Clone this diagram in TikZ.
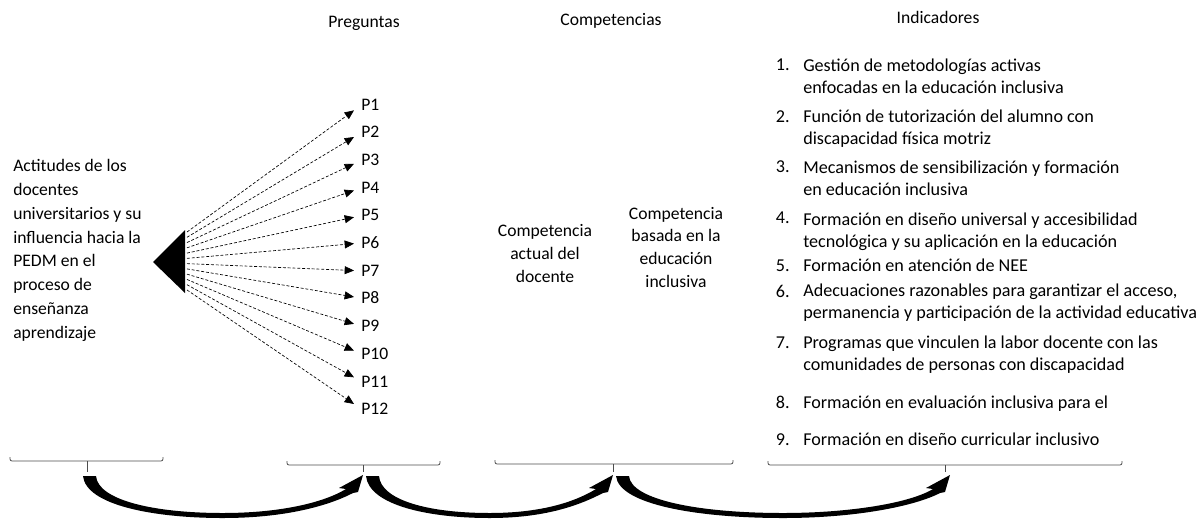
\documentclass[tikz,border=0pt]{standalone}
\usepackage{fontspec}
\setmainfont{Carlito}
\usetikzlibrary{arrows.meta,calc}

\tikzset{
  lbl/.style={inner sep=0pt, font=\fontsize{13.2}{16.5}\selectfont},
  indlbl/.style={inner sep=0pt, font=\fontsize{13.6}{16.5}\selectfont},
  qarrow/.style={line width=0.5pt, dash pattern=on 2.2pt off 1.4pt,
    -{Triangle[length=7pt,width=6pt]}},
  brack/.style={line width=0.6pt, draw=black!70, rounded corners=1.5pt},
}

% thick curved arrow under the brackets: #1 = x of start, #2 = x of tip
\newcommand\swoop[2]{%
  \pgfmathsetmacro\sa{#1}\pgfmathsetmacro\sb{#2}%
  \pgfmathsetmacro\sm{(#1+#2)/2}\pgfmathsetmacro\sl{#2-#1}%
  \fill (\sa,476) .. controls (\sa+3,505) and (\sm-0.25*\sl,518) .. (\sm,518)
    .. controls (\sm+0.22*\sl,518) and (\sb-35,506) .. (\sb-10,493)
    -- (\sb-5,492) -- (\sb,475) -- (\sb-24,488) -- (\sb-17,489)
    .. controls (\sb-40,503) and (\sm+0.2*\sl,513) .. (\sm,513)
    .. controls (\sm-0.25*\sl,513) and (\sa+15,500) .. (\sa+13,476) -- cycle;}

\begin{document}
\begin{tikzpicture}[x=0.75pt,y=-0.75pt]
  \useasboundingbox (0,0) rectangle (1203,519);

  % column titles
  \node[lbl,anchor=base] (tpreg) at (364,27) {Preguntas};
  \node[lbl,anchor=base] (tcomp) at (611,25) {Competencias};
  \node[lbl,anchor=base] (tind) at (938,23) {Indicadores};

  % variable (base anchor = last line)
  \node[lbl,anchor=base west,align=left,font=\fontsize{13.2}{17.8}\selectfont] (actitud) at (13,338)
    {Actitudes de los\\docentes\\universitarios y su\\influencia hacia la\\PEDM en el\\proceso de\\enseñanza\\aprendizaje};
  \fill (153,262) -- (185,230) -- (185,293) -- cycle;

  % preguntas
  \foreach \k in {1,...,12}{
    \coordinate (s\k) at (187,{232+(\k-1)*5.27});
    \node[lbl,anchor=base west] (p\k) at (361,{110+(\k-1)*27.7}) {P\k};
    \draw[qarrow] (s\k) -- ($(p\k.west)+(-7,{6-(\k-1)})$);
  }

  % competencias
  \node[lbl,anchor=base,align=center,font=\fontsize{13.2}{17}\selectfont] (cact) at (545,282)
    {Competencia\\actual del\\docente};
  \node[lbl,anchor=base,align=center,font=\fontsize{13.2}{17}\selectfont] (cinc) at (676,287)
    {Competencia\\basada en la\\educación\\inclusiva};

  % indicadores: number baseline / last text baseline
  \foreach \i/\yy/\zz/\txt in {
      1/70/93/{Gestión de metodologías activas\\enfocadas en la educación inclusiva},
      2/122/144/{Función de tutorización del alumno con\\discapacidad física motriz},
      3/172/195/{Mecanismos de sensibilización y formación\\en educación inclusiva},
      4/223/247/{Formación en diseño universal y accesibilidad\\tecnológica y su aplicación en la educación},
      5/271/271/{Formación en atención de NEE},
      6/297/318/{Adecuaciones razonables para garantizar el acceso,\\permanencia y participación de la actividad educativa},
      7/348/370/{Programas que vinculen la labor docente con las\\comunidades de personas con discapacidad},
      8/408/408/{Formación en evaluación inclusiva para el},
      9/445/445/{Formación en diseño curricular inclusivo}}{
    \node[indlbl,anchor=base east] (n\i) at (790,\yy) {\i.};
    \node[indlbl,anchor=base west,align=left] (ind\i) at (803,\zz) {\txt};
  }

  % brackets
  \foreach \a/\b/\c/\y in {10/163/87/461, 287/440/363/465, 495/733/613/464, 768/1122/945/465}{
    \draw[brack] (\a,\y-4) -- (\a,\y) -- (\b,\y) -- (\b,\y-4);
    \draw[brack] (\c,\y) -- (\c,472);
  }

  % flow
  \swoop{83}{363}
  \swoop{366}{613}
  \swoop{616}{950}
\end{tikzpicture}
\end{document}
